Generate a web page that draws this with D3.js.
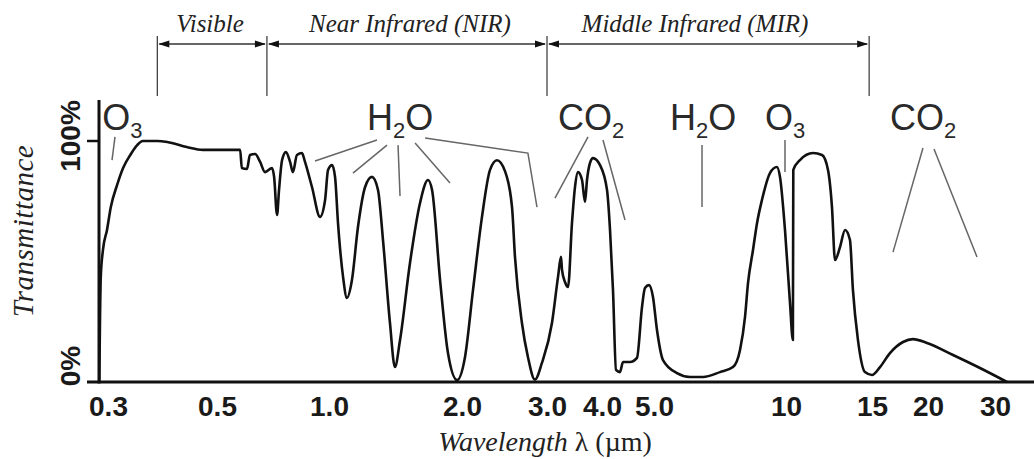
<!DOCTYPE html>
<html lang="en">
<head>
<meta charset="UTF-8">
<title>Atmospheric transmittance</title>
<script src="https://cdn.jsdelivr.net/npm/d3@7"></script>
<style>
  body { margin: 0; background: #fff; }
  svg { display: block; }
</style>
</head>
<body>
<div id="chart"></div>
<script>

// curve: wavelength (µm) and transmittance (%)
const wavelength = [
  0.288, 0.289, 0.290, 0.293, 0.2986, 0.304, 0.313, 0.322, 0.333, 0.344, 0.353, 0.378, 0.396, 0.434, 0.468, 0.577,
  0.583, 0.602, 0.613, 0.633, 0.653, 0.673, 0.703, 0.712, 0.725, 0.734, 0.748, 0.766, 0.786, 0.800, 0.820, 0.846,
  0.862, 0.900, 0.946, 0.976, 0.994, 1.016, 1.032, 1.048, 1.076, 1.098, 1.127, 1.163, 1.207, 1.251, 1.291, 1.325,
  1.374, 1.410, 1.448, 1.525, 1.607, 1.675, 1.711, 1.784, 1.859, 1.949, 2.029, 2.108, 2.200, 2.286, 2.363, 2.455,
  2.539, 2.575, 2.662, 2.739, 2.832, 2.928, 3.079, 3.178, 3.228, 3.245, 3.296, 3.349, 3.419, 3.473, 3.528, 3.603,
  3.660, 3.698, 3.757, 3.816, 3.959, 4.087, 4.140, 4.193, 4.248, 4.321, 4.377, 4.511, 4.648, 4.749, 4.810, 4.894,
  4.978, 5.079, 5.242, 5.642, 6.040, 6.468, 7.071, 7.570, 7.855, 8.064, 8.192, 8.409, 8.59, 8.813, 9.192, 9.537,
  9.689, 9.947, 10.19, 10.33, 10.35, 10.68, 11.36, 11.85, 12.19, 12.42, 12.60, 12.90, 13.21, 13.52, 13.71, 14.04,
  14.51, 15.0, 15.63, 16.45, 17.59, 18.51, 19.90, 23.27, 27.39, 32.26
];
const transmittance = [
  0, 27, 43.6, 54.8, 63.1, 72.6, 81.7, 88.8, 94.2, 98.3, 100, 100, 99.6, 97.5, 96.3, 96.3,
  88.8, 88.4, 94.2, 94.6, 91.3, 87.1, 88.8, 85.1, 69.3, 79.7, 92.1, 95.4, 91.3, 87.1, 94.2, 95.0,
  91.3, 80.9, 68.5, 75.5, 88.0, 90.0, 85.1, 66.0, 43.6, 34.9, 42.3, 64.3, 80.9, 85.1, 79.7, 58.9,
  24.5, 6.2, 17.4, 49.4, 74.3, 83.8, 79.7, 42.3, 12.0, 0.8, 10.4, 38.2, 68.5, 88.0, 92.0, 87.5,
  72.6, 51.9, 24.5, 10.4, 1.0, 7.9, 24.5, 43.6, 51.9, 46.5, 41.5, 39.4, 66.0, 80.9, 87.1, 83.8,
  74.7, 83.8, 90.9, 92.9, 90.0, 79.7, 63.1, 38.2, 5.0, 4.1, 8.3, 8.3, 10.0, 31.1, 39.0, 40.2,
  35.3, 21.6, 9.1, 3.7, 2.1, 2.1, 4.1, 6.2, 13.3, 27.0, 41.1, 54.8, 66.0, 75.5, 86.7, 89.2,
  85.1, 63.1, 32.8, 17.4, 88.0, 92.1, 95.0, 94.2, 88.0, 72.6, 50.6, 56.0, 63.1, 58.9, 38.2, 17.4,
  4.1, 2.9, 6.2, 12.0, 16.6, 17.8, 16.2, 11.2, 5.8, 0
];

// x ticks; the printed axis is not a clean log scale, so the scale is piecewise
const tickValues = [0.3, 0.5, 1, 2, 3, 4, 5, 10, 15, 20, 30];
const tickLabels = ["0.3", "0.5", "1.0", "2.0", "3.0", "4.0", "5.0", "10", "15", "20", "30"];
const tickPos = [108, 217, 329, 462, 547, 602, 654, 786, 872, 928, 995];

const yTickValues = [0, 100];
const yTickLabels = ["0%", "100%"];

// spectral regions at the top (µm)
const regionNames = ["Visible", "Near Infrared (NIR)", "Middle Infrared (MIR)"];
const regionFrom = [0.378, 0.681, 3.0];
const regionTo = [0.681, 3.0, 14.8];
const regionLabelAt = [0.484, 1.525, 6.2];

// absorbing gases: label position (µm, %) and leader lines
const gasNames = ["O3", "H2O", "CO2", "H2O", "O3", "CO2"];
const gasAt = [0.292, 1.219, 3.178, 5.439, 8.957, 16.45];
const gasLevel = 104.6;
const leaders = [
  [[0.310, 101.7], [0.3057, 92.1]],
  [[1.284, 100.4], [0.917, 91.7]],
  [[1.353, 98.3], [1.133, 86.7]],
  [[1.433, 98.3], [1.448, 77.2]],
  [[1.566, 99.2], [1.879, 82.6]],
  [[1.650, 101.2], [2.739, 95.0], [2.860, 72.6]],
  [[3.718, 101.7], [3.128, 76.3]],
  [[4.017, 100.4], [4.415, 67.2]],
  [[6.434, 98.3], [6.434, 72.6]],
  [[9.947, 100.4], [9.947, 87.1]],
  [[19.49, 97.1], [16.71, 53.9]],
  [[20.74, 96.7], [26.90, 51.9]]
];

const width = 1034, height = 459;
const plotLeft = 99, axisTop = 100;
const sans = '"Liberation Sans", Arial, Helvetica, sans-serif';
const serif = '"Liberation Serif", "Times New Roman", serif';

const svg = d3.select("#chart").append("svg")
  .attr("width", width)
  .attr("height", height)
  .style("background", "#fff");

const x = d3.scaleLog().domain(tickValues).range(tickPos);
const y = d3.scaleLinear().domain([0, 100]).range([382, 141]);

// leader lines (under everything else)
svg.append("g")
  .selectAll("path")
  .data(leaders)
  .join("path")
  .attr("fill", "none")
  .attr("stroke", "#666")
  .attr("stroke-width", 1.5)
  .attr("d", d3.line().x(d => x(d[0])).y(d => y(d[1])));

// gas labels with subscripts
const gas = svg.append("g")
  .attr("font-family", sans)
  .attr("font-size", 36)
  .attr("fill", "#2a2a2a")
  .selectAll("text")
  .data(gasNames)
  .join("text")
  .attr("x", (d, i) => x(gasAt[i]))
  .attr("y", y(gasLevel));

gas.each(function(name) {
  const t = d3.select(this);
  let shift = 0;
  name.split(/(\d)/).filter(s => s).forEach(part => {
    const sub = /\d/.test(part);
    const target = sub ? 8 : 0;
    t.append("tspan")
      .attr("dy", target - shift)
      .attr("font-size", sub ? 22 : null)
      .text(part);
    shift = target;
  });
});

// the curve
const points = wavelength.map((w, i) => [w, transmittance[i]]);
svg.append("path")
  .datum(points)
  .attr("fill", "none")
  .attr("stroke", "#111")
  .attr("stroke-width", 2.6)
  .attr("stroke-linejoin", "round")
  .attr("d", d3.line()
    .x(d => x(d[0]))
    .y(d => y(d[1]))
    .curve(d3.curveMonotoneX));

// axes
svg.append("line")
  .attr("x1", plotLeft - 12).attr("x2", width)
  .attr("y1", y(0)).attr("y2", y(0))
  .attr("stroke", "#111").attr("stroke-width", 3);
svg.append("line")
  .attr("x1", plotLeft).attr("x2", plotLeft)
  .attr("y1", axisTop).attr("y2", y(0) + 1.5)
  .attr("stroke", "#111").attr("stroke-width", 3);
svg.append("line")
  .attr("x1", plotLeft - 12).attr("x2", plotLeft)
  .attr("y1", y(100)).attr("y2", y(100))
  .attr("stroke", "#111").attr("stroke-width", 2.5);

const xAxis = svg.append("g")
  .attr("transform", `translate(0,${y(0)})`)
  .call(d3.axisBottom(x).tickValues(tickValues).tickFormat((d, i) => tickLabels[i]).tickSize(0));
xAxis.select(".domain").remove();
xAxis.selectAll("text")
  .attr("y", 34)
  .attr("dy", 0)
  .attr("font-family", sans)
  .attr("font-size", 28)
  .attr("font-weight", "bold")
  .attr("fill", "#1a1a1a");

// y tick labels, rotated
const yLabelShift = [-16, -5];
svg.append("g")
  .selectAll("text")
  .data(yTickValues)
  .join("text")
  .attr("transform", (d, i) => `translate(80,${y(d) + yLabelShift[i]}) rotate(-90)`)
  .attr("text-anchor", "middle")
  .attr("font-family", sans)
  .attr("font-size", 28)
  .attr("font-weight", "bold")
  .attr("fill", "#1a1a1a")
  .text((d, i) => yTickLabels[i]);

// axis titles
svg.append("text")
  .attr("transform", "translate(33,231) rotate(-90)")
  .attr("text-anchor", "middle")
  .attr("font-family", serif)
  .attr("font-style", "italic")
  .attr("font-size", 29)
  .attr("letter-spacing", 0.5)
  .attr("fill", "#222")
  .text("Transmittance");

const xt = svg.append("text")
  .attr("x", 545)
  .attr("y", 451)
  .attr("text-anchor", "middle")
  .attr("font-family", serif)
  .attr("font-size", 28)
  .attr("fill", "#222");
xt.append("tspan").attr("font-style", "italic").text("Wavelength");
xt.append("tspan").text(" λ (µm)");

// spectral regions with double arrows
const arrowY = 44;
const bounds = Array.from(new Set(regionFrom.concat(regionTo)));
svg.append("g")
  .selectAll("line")
  .data(bounds)
  .join("line")
  .attr("x1", d => x(d)).attr("x2", d => x(d))
  .attr("y1", 36).attr("y2", 96)
  .attr("stroke", "#333")
  .attr("stroke-width", 1.2);

const reg = svg.append("g")
  .selectAll("g")
  .data(regionNames)
  .join("g");

reg.append("line")
  .attr("x1", (d, i) => x(regionFrom[i]) + 2)
  .attr("x2", (d, i) => x(regionTo[i]) - 2)
  .attr("y1", arrowY).attr("y2", arrowY)
  .attr("stroke", "#333")
  .attr("stroke-width", 1.3);

reg.append("path")
  .attr("fill", "#111")
  .attr("d", (d, i) => {
    const a = x(regionFrom[i]) + 1, b = x(regionTo[i]) - 1;
    return `M${a},${arrowY}L${a + 11},${arrowY - 3.5}L${a + 11},${arrowY + 3.5}Z` +
           `M${b},${arrowY}L${b - 11},${arrowY - 3.5}L${b - 11},${arrowY + 3.5}Z`;
  });

reg.append("text")
  .attr("x", (d, i) => x(regionLabelAt[i]))
  .attr("y", 32)
  .attr("text-anchor", "middle")
  .attr("font-family", serif)
  .attr("font-style", "italic")
  .attr("font-size", 25)
  .attr("fill", "#222")
  .text(d => d);

</script>
</body>
</html>
